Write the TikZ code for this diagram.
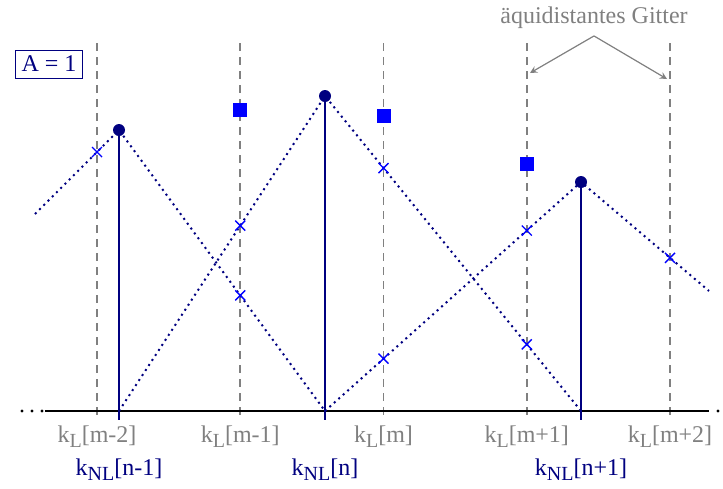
\documentclass[tikz,border=0pt]{standalone}
\usepackage{fontspec}
\setmainfont{Liberation Serif}
\definecolor{nlblue}{RGB}{0,0,128}
\newcommand{\lowsub}[1]{\raisebox{-0.45ex}{\fontsize{10}{12}\selectfont #1}}
\newcommand{\kL}[1]{k\lowsub{L}[#1]}
\newcommand{\kNL}[1]{k\lowsub{NL}[#1]}

\begin{document}
\begin{tikzpicture}[>=stealth, x=0.5pt, y=-0.5pt, font=\large,
    gitter/.style={gray, line width=0.8pt, dash pattern=on 4pt off 3pt},
    probe/.style={nlblue, line width=1pt},
    hut/.style={nlblue, line width=1pt, dotted},
    kreuz/.style={blue, line width=0.7pt}]
  \useasboundingbox (0,0) rectangle (723,488);

  % aequidistantes Gitter
  \foreach \i/\m in {0/m-2, 1/m-1, 2/m, 3/m+1, 4/m+2} {
    \coordinate (gt\i) at ({97+143.25*\i},43);
    \coordinate (gb\i) at ({97+143.25*\i},420);
    \draw[gitter] (gt\i) -- (gb\i);
    \node[gray] (kl\i) at ({97+143.25*\i},437) {\kL{\m}};
  }

  % Achse
  \coordinate (links) at (45,411);
  \coordinate (rechts) at (709,411);
  \draw[line width=1.4pt] (links) -- (rechts);
  \foreach \x in {22,32,42,718} \fill (\x,411) circle (0.8pt);

  % nichtaequidistante Stuetzstellen
  \foreach \j/\x/\y/\n in {1/119/130/n-1, 2/325/96/n, 3/581/182/n+1} {
    \coordinate (p\j) at (\x,\y);
    \coordinate (f\j) at (\x,411);
    \coordinate (s\j) at (\x,420);
    \draw[probe] (p\j) -- (s\j);
    \fill[nlblue] (p\j) circle (3pt);
    \node[nlblue] (knl\j) at (\x,470) {\kNL{\n}};
  }

  % Dreiecksfunktionen
  \coordinate (a0) at (35,214);
  \coordinate (a4) at (709,291);
  \draw[hut] (a0) -- (p1) -- (f2);
  \draw[hut] (f1) -- (p2) -- (f3);
  \draw[hut] (f2) -- (p3) -- (a4);

  % Schnittpunkte mit dem Gitter
  \foreach \x/\y in {97/152, 240.25/295.4, 240.25/225.6, 383.5/168, 383.5/358.7, 526.75/344.3, 526.75/230.5, 670/257.8}
    \draw[kreuz] (\x,\y) +(-2.5pt,-2.5pt) -- +(2.5pt,2.5pt) +(-2.5pt,2.5pt) -- +(2.5pt,-2.5pt);

  % Summe
  \foreach \x/\y in {240.25/110, 383.5/115.7, 526.75/163.8}
    \fill[blue] (\x,\y) +(-3.5pt,-3.5pt) rectangle +(3.5pt,3.5pt);

  \node[draw=nlblue, text=nlblue, inner xsep=3pt, inner ysep=3pt] (amp) at (49,64) {A = 1};

  \node[gray] (gtext) at (594,18) {äquidistantes Gitter};
  \coordinate (pl) at (530,73);
  \coordinate (pr) at (667,79);
  \draw[->, gray, line width=0.6pt] (gtext.south) -- (pl);
  \draw[->, gray, line width=0.6pt] (gtext.south) -- (pr);
\end{tikzpicture}
\end{document}
